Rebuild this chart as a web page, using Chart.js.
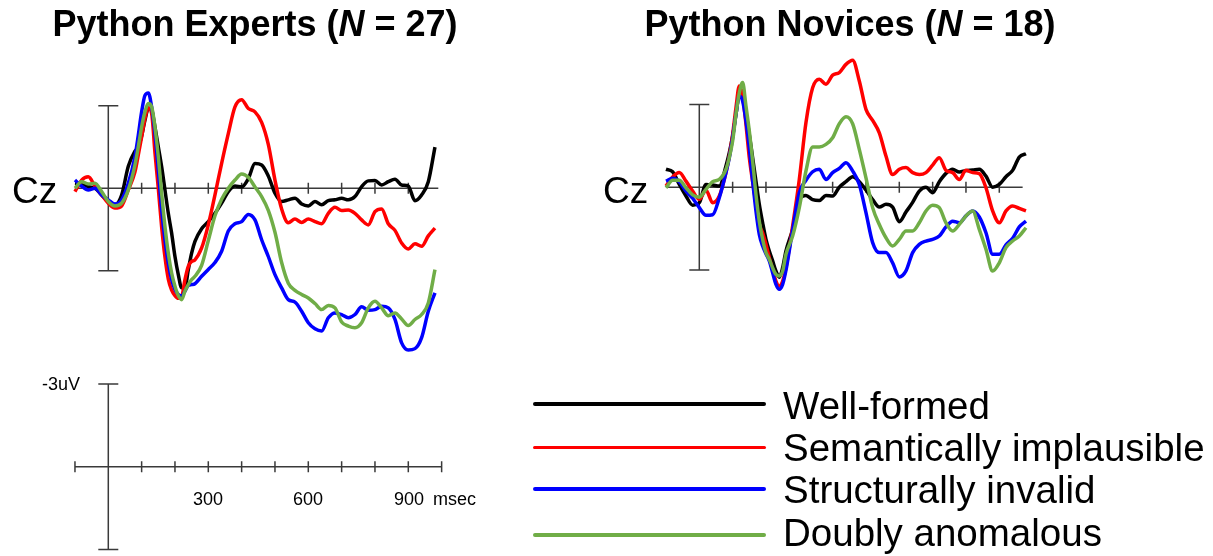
<!DOCTYPE html>
<html>
<head>
<meta charset="utf-8">
<script src="https://cdn.jsdelivr.net/npm/chart.js@4.4.1/dist/chart.umd.min.js"></script>
<style>
  html, body { margin: 0; padding: 0; background: #fff; width: 1213px; height: 556px; overflow: hidden; }
  body { position: relative; font-family: "Liberation Sans", Arial, Helvetica, sans-serif; color: #000; }
  canvas.layer { position: absolute; left: 0; top: 0; }
  .txt { position: absolute; white-space: nowrap; line-height: 1; }
  .title { font-weight: bold; font-size: 36px; transform: translateX(-50%); }
  .cz { font-size: 37px; }
  .calib { font-size: 18px; }
  .legend-label { font-size: 38.5px; left: 783px; }
  .legend-line { position: absolute; left: 533px; width: 233px; height: 3.5px; border-radius: 2px; }
</style>
</head>
<body>
<canvas id="experts" class="layer" width="1213" height="556"></canvas>
<canvas id="novices" class="layer" width="1213" height="556"></canvas>
<canvas id="calibration" class="layer" width="1213" height="556"></canvas>

<div class="txt title" style="left:255px; top:6px;">Python Experts (<i>N</i> = 27)</div>
<div class="txt title" style="left:850px; top:6px;">Python Novices (<i>N</i> = 18)</div>
<div class="txt cz" style="left:12px; top:172px;">Cz</div>
<div class="txt cz" style="left:603px; top:172px;">Cz</div>

<div class="txt calib" style="left:42px; top:375px;">-3uV</div>
<div class="txt calib" style="left:208px; top:490px; transform:translateX(-50%);">300</div>
<div class="txt calib" style="left:308px; top:490px; transform:translateX(-50%);">600</div>
<div class="txt calib" style="left:409px; top:490px; transform:translateX(-50%);">900</div>
<div class="txt calib" style="left:433px; top:490px;">msec</div>

<div id="legend"></div>

<script>
// Sample times (ms) shared by every waveform; 10 ms steps around the early peaks.
const TIMES_MS = [-100,-80,-60,-40,-20,0,20,40,60,80,
  90,100,110,120,130,140,150,160,170,180,190,200,210,220,230,240,250,260,
  280,300,320,340,360,380,400,420,440,460,480,500,520,540,560,580,600,620,640,660,680,700,
  720,740,760,780,800,820,840,860,880,900,920,940,960,980];

const CONDITIONS = ['Well-formed', 'Semantically implausible', 'Structurally invalid', 'Doubly anomalous'];
const CONDITION_COLORS = ['#000000', '#ff0000', '#0000ff', '#70ad47'];

// Grand-average amplitudes at Cz (µV), experts
const EXPERT_WELL_FORMED = [-0.18,-0.16,-0.06,0,0.24,0.48,0.6,0.25,-0.8,-1.35,
  -1.5,-1.9,-2.48,-2.9,-2.84,-2.23,-1.51,-0.79,0.06,0.91,1.63,2.48,3.14,3.62,3.62,2.96,2.36,1.93,
  1.47,1.21,0.91,0.54,0.12,-0.08,-0.05,-0.35,-0.9,-0.85,-0.45,0.18,0.48,0.42,0.36,0.57,0.64,0.48,0.6,0.45,0.42,0.36,
  0.42,0.3,-0.06,-0.27,-0.28,-0.12,-0.24,-0.33,-0.12,-0.08,0.45,0.24,-0.24,-1.5];
const EXPERT_SEMANTIC = [0.12,-0.3,-0.42,-0.08,0.24,0.54,0.72,0.64,0.06,-0.6,
  -1.21,-1.87,-2.54,-2.93,-2.72,-1.3,0.0,1.4,2.5,3.3,3.7,3.9,4.0,3.95,3.32,2.84,2.66,2.6,
  2.17,1.33,0.24,-0.91,-1.99,-2.96,-3.22,-2.9,-2.78,-2.4,-1.6,-0.3,0.75,1.25,1.12,1.24,1.12,1.21,1.29,0.91,0.69,0.81,
  0.79,0.91,1.15,1.33,0.85,0.75,1.29,1.53,1.99,2.21,2.02,2.11,1.73,1.45];
const EXPERT_STRUCTURAL = [-0.3,-0.08,0.06,0,0.24,0.42,0.57,0.42,-0.18,-1.15,
  -1.93,-2.78,-3.38,-3.47,-2.96,-1.99,-0.66,0.79,1.87,2.72,3.32,3.68,3.86,3.92,3.74,3.53,3.5,3.47,
  3.2,2.95,2.7,2.29,1.55,1.29,1.21,0.95,1.15,1.87,2.48,3.14,3.62,4.05,4.14,4.47,4.89,5.11,5.19,4.71,4.53,4.59,
  4.71,4.59,4.31,4.43,4.41,4.29,4.35,4.77,5.62,5.88,5.83,5.43,4.47,3.8];
const EXPERT_DOUBLE = [0,-0.24,-0.16,-0.18,0.12,0.48,0.64,0.54,0.06,-0.85,
  -1.51,-2.23,-2.78,-3.08,-2.96,-2.23,-1.15,0.18,1.39,2.36,3.08,3.56,3.9,4.05,3.74,3.5,3.32,3.2,
  2.8,1.9,1.0,0.4,0.0,-0.3,-0.52,-0.4,-0.05,0.3,0.8,1.6,2.7,3.45,3.71,3.86,3.99,4.19,4.41,4.26,4.35,4.86,
  5.01,5.07,4.89,4.35,4.11,4.35,4.63,4.53,4.75,4.99,4.77,4.59,4.17,2.96];

// Grand-average amplitudes at Cz (µV), novices
const NOVICE_WELL_FORMED = [-0.65,-0.56,-0.1,0.32,0.65,0.56,-0.1,-0.08,-0.04,-0.77,
  -1.25,-1.85,-2.64,-3.42,-3.48,-2.7,-1.91,-1.07,-0.22,0.62,1.29,1.89,2.31,2.67,3.04,3.26,2.92,2.31,
  1.53,0.44,0.3,0.45,0.48,0.3,0.32,0.0,-0.2,-0.38,-0.2,0.1,0.45,0.72,0.62,0.72,1.25,0.9,0.55,0.14,0.0,0.2,
  -0.2,-0.5,-0.65,-0.55,-0.6,-0.62,-0.65,-0.4,0.0,-0.1,-0.38,-0.61,-1.09,-1.21];
const NOVICE_SEMANTIC = [-0.04,-0.37,-0.53,-0.22,0.14,0.44,0.11,0.56,0.32,-0.53,
  -1.13,-1.91,-2.88,-3.67,-3.3,-2.28,-1.07,-0.2,0.6,1.35,1.65,2.07,2.55,2.98,3.4,3.58,3.4,2.92,
  1.41,-0.28,-2.34,-3.6,-3.91,-3.73,-4.06,-4.15,-4.45,-4.6,-3.85,-2.82,-2.42,-1.97,-1.13,-0.46,-0.65,-0.71,-0.53,-0.46,-0.53,-0.8,
  -1.07,-0.61,-0.53,-0.28,-0.61,-0.53,-0.49,0.02,0.86,1.29,0.86,0.68,0.77,0.86];
const NOVICE_STRUCTURAL = [-0.22,-0.32,-0.2,0.14,0.4,0.74,1.02,1.0,0.38,-0.53,
  -1.07,-1.79,-2.64,-3.3,-3.12,-2.4,-1.43,-0.22,0.86,1.71,2.13,2.41,2.67,3.1,3.52,3.7,3.52,3.01,
  1.55,0.2,-0.25,-0.56,-0.65,-0.28,-0.53,-0.68,-0.89,-0.59,-0.1,0.92,2.01,2.37,2.37,2.74,3.25,3.03,2.37,2.07,1.95,1.89,
  1.77,1.44,1.23,1.29,1.04,0.86,1.08,1.65,2.43,2.43,2.09,1.85,1.44,1.23];
const NOVICE_DOUBLE = [0.02,-0.25,-0.25,0.02,0.28,0.36,0.08,-0.2,-0.28,-0.65,
  -1.07,-1.67,-2.64,-3.42,-3.79,-2.94,-2.04,-0.95,0.26,1.23,1.89,2.37,2.61,2.92,3.16,3.22,3.04,2.43,
  1.77,0.74,-0.59,-1.46,-1.46,-1.55,-1.79,-2.3,-2.55,-2.3,-1.37,-0.34,0.74,1.35,1.83,2.13,1.89,1.59,1.59,1.29,0.86,0.65,
  0.74,1.29,1.59,1.35,1.04,0.86,1.53,2.25,3.04,2.74,2.19,1.95,1.77,1.47];

// Axis ticks (ms)
const PANEL_TICKS_MS = [100,200,300,400,500,600,700,800,900];
const CALIB_TICKS_MS = [-100,100,200,300,400,500,600,700,800,900,1000];
const CALIB_UV = 3;

// Page geometry: each chart fills the page, scales placed so that (0 ms, 0 µV) lands on its origin.
const PAGE_W = 1213, PAGE_H = 556;
const PX_PER_MS = 1 / 3;

function fullPageScales(originX, originY, pxPerUv) {
  return {
    x: { type: 'linear', display: false, min: -originX / PX_PER_MS, max: (PAGE_W - originX) / PX_PER_MS },
    // negative up, as is usual for ERP plots
    y: { type: 'linear', display: false, reverse: true, min: -originY / pxPerUv, max: (PAGE_H - originY) / pxPerUv }
  };
}

// Zero line with time ticks and a ±3 µV calibration bar at stimulus onset
const erpAxes = {
  id: 'erpAxes',
  beforeDatasetsDraw(chart, args, opts) {
    const { ctx, scales: { x, y } } = chart;
    const y0 = y.getPixelForValue(0);
    const x0 = x.getPixelForValue(0);
    ctx.save();
    ctx.strokeStyle = '#3a3a3a';
    ctx.lineWidth = 1.5;
    ctx.beginPath();
    ctx.moveTo(x.getPixelForValue(opts.start), y0);
    ctx.lineTo(x.getPixelForValue(opts.end), y0);
    opts.ticks.forEach(t => {
      const px = x.getPixelForValue(t);
      ctx.moveTo(px, y0 - 5.5);
      ctx.lineTo(px, y0 + 5.5);
    });
    const yt = y.getPixelForValue(-CALIB_UV), yb = y.getPixelForValue(CALIB_UV);
    ctx.moveTo(x0, yt); ctx.lineTo(x0, yb);
    ctx.moveTo(x0 - 10, yt); ctx.lineTo(x0 + 10, yt);
    ctx.moveTo(x0 - 10, yb); ctx.lineTo(x0 + 10, yb);
    ctx.stroke();
    ctx.restore();
  }
};

function waveDatasets(series) {
  // first dataset is painted last, so list top-most (green) first
  return series.map((vals, i) => ({
    label: CONDITIONS[i],
    data: TIMES_MS.map((t, k) => ({ x: t, y: vals[k] })),
    borderColor: CONDITION_COLORS[i],
    borderWidth: 3.5,
    pointRadius: 0,
    cubicInterpolationMode: 'monotone',
    fill: false,
    clip: false,
    order: series.length - i
  }));
}

function makeChart(id, datasets, scales, axesOpts) {
  return new Chart(document.getElementById(id), {
    type: 'line',
    data: { datasets },
    options: {
      responsive: false,
      animation: false,
      devicePixelRatio: 1,
      events: [],
      layout: { padding: 0 },
      scales,
      plugins: { legend: { display: false }, tooltip: { enabled: false }, erpAxes: axesOpts }
    },
    plugins: [erpAxes]
  });
}

makeChart('experts',
  waveDatasets([EXPERT_WELL_FORMED, EXPERT_SEMANTIC, EXPERT_STRUCTURAL, EXPERT_DOUBLE]),
  fullPageScales(108.3, 188.3, 27.5),
  { start: -100, end: 990, ticks: PANEL_TICKS_MS });

makeChart('novices',
  waveDatasets([NOVICE_WELL_FORMED, NOVICE_SEMANTIC, NOVICE_STRUCTURAL, NOVICE_DOUBLE]),
  fullPageScales(699.3, 187.2, 27.6),
  { start: -100, end: 970, ticks: PANEL_TICKS_MS });

makeChart('calibration', [],
  fullPageScales(108.3, 466.7, 27.6),
  { start: -100, end: 1000, ticks: CALIB_TICKS_MS });

// Legend
const LEGEND_LINE_Y = [404, 447.3, 489, 535];
const LEGEND_BASELINE = [420, 461.7, 503.3, 546.7];
const LEGEND_FONT_PX = 38.5;
const legendBox = document.getElementById('legend');
CONDITIONS.forEach((name, i) => {
  const line = document.createElement('div');
  line.className = 'legend-line';
  line.style.top = (LEGEND_LINE_Y[i] - 1.75) + 'px';
  line.style.background = CONDITION_COLORS[i];
  legendBox.appendChild(line);
  const label = document.createElement('div');
  label.className = 'txt legend-label';
  label.style.top = (LEGEND_BASELINE[i] - 0.8465 * LEGEND_FONT_PX) + 'px';
  label.textContent = name;
  legendBox.appendChild(label);
});
</script>
</body>
</html>
